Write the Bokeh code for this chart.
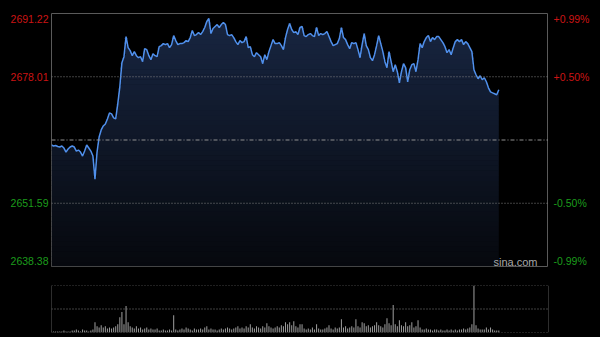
import numpy as np
from bokeh.plotting import figure
from bokeh.layouts import column, row
from bokeh.models import Range1d, Span, Label, ColumnDataSource
from bokeh.core.properties import value
from bokeh.embed import file_html
from bokeh.resources import INLINE

# ---------------- data ----------------
session_minutes = 240
prev_close = 2664.80
axis_prices = [2691.22, 2678.01, 2651.59, 2638.38]
left_labels = ["2691.22", "2678.01", "2651.59", "2638.38"]
right_labels = ["+0.99%", "+0.50%", "-0.50%", "-0.99%"]
label_is_up = [True, True, False, False]

price = [
    2663.75, 2663.54, 2663.65, 2663.44, 2663.33, 2663.54, 2663.12, 2662.28, 2662.91, 2663.33,
    2663.54, 2663.33, 2662.49, 2662.70, 2662.28, 2661.44, 2662.49, 2663.75, 2663.12, 2662.49,
    2661.44, 2656.62, 2662.28, 2665.43, 2666.90, 2667.73, 2668.15, 2669.20, 2670.46, 2670.25,
    2669.41, 2669.20, 2672.35, 2675.91, 2680.95, 2682.20, 2686.40, 2684.09, 2683.46, 2682.41,
    2683.25, 2682.41, 2681.99, 2682.20, 2681.16, 2683.88, 2683.67, 2682.41, 2681.58, 2682.83,
    2682.41, 2682.20, 2684.30, 2684.51, 2684.93, 2684.72, 2684.93, 2684.09, 2684.72, 2686.61,
    2685.56, 2684.72, 2684.93, 2684.93, 2685.14, 2685.56, 2685.35, 2686.19, 2687.66, 2686.61,
    2686.82, 2687.24, 2686.82, 2687.45, 2688.29, 2689.54, 2690.17, 2687.03, 2688.08, 2688.50,
    2688.91, 2688.29, 2688.91, 2689.33, 2688.91, 2686.82, 2686.61, 2686.82, 2686.19, 2685.35,
    2684.72, 2685.56, 2685.14, 2685.35, 2686.40, 2684.09, 2684.30, 2682.62, 2682.20, 2683.04,
    2682.62, 2682.20, 2680.74, 2682.62, 2681.58, 2683.25, 2684.51, 2685.77, 2684.93, 2684.93,
    2685.14, 2684.51, 2683.67, 2686.19, 2687.87, 2689.12, 2687.87, 2687.24, 2687.45, 2686.82,
    2688.29, 2688.50, 2686.61, 2686.40, 2686.82, 2687.03, 2686.61, 2686.40, 2688.29, 2686.61,
    2687.03, 2686.82, 2687.03, 2687.45, 2686.40, 2685.35, 2684.51, 2684.72, 2684.93, 2685.98,
    2688.29, 2686.19, 2685.77, 2684.72, 2683.88, 2685.14, 2684.93, 2685.14, 2683.67, 2681.99,
    2684.72, 2687.03, 2684.51, 2683.67, 2681.99, 2681.37, 2682.62, 2684.51, 2686.61, 2684.93,
    2683.25, 2681.16, 2679.90, 2683.25, 2681.16, 2679.06, 2680.53, 2679.06, 2676.75, 2679.06,
    2680.74, 2679.90, 2676.96, 2679.48, 2680.53, 2680.74, 2679.06, 2681.58, 2684.93, 2684.09,
    2685.35, 2686.19, 2686.61, 2685.35, 2686.19, 2685.77, 2686.40, 2686.40, 2685.77, 2685.14,
    2684.30, 2683.04, 2683.67, 2682.62, 2684.09, 2685.35, 2685.77, 2685.35, 2685.77, 2684.72,
    2685.35, 2684.93, 2684.09, 2683.25, 2679.48, 2678.43, 2677.59, 2678.22, 2677.38, 2677.80,
    2676.96, 2675.70, 2674.86, 2674.65, 2674.45, 2674.24, 2675.28,
]

volume = [
    2, 1, 1, 1, 1, 1, 2, 1, 1, 1, 2, 2, 3, 2, 1, 3, 2, 2, 1, 2, 3,
    10, 6, 5, 7, 5, 6, 4, 5, 4, 5, 6,
    8, 15, 20, 8, 26, 10, 6,
    5, 4, 6, 4, 5, 3, 4, 5, 3, 4, 3, 3, 4,
    2, 2, 3, 2, 2, 3, 2,
    17,
    3, 2, 3, 4, 3, 5, 4, 3, 2, 4, 3, 3, 4, 3, 5, 6,
    3, 4, 3, 3, 2, 3, 4, 3, 4, 5, 4, 3, 4, 5, 6,
    4, 5, 4, 6, 5, 8, 5, 4, 6,
    5, 4, 6, 5, 9, 6, 5, 4, 5, 6, 5, 7, 6,
    10, 8, 10, 7, 11, 6, 5, 8,
    8, 4, 3, 4, 3, 5, 3, 8, 4, 3, 3, 4, 5,
    7, 4, 3, 5, 4,
    5, 13, 5, 6, 4, 5, 6, 5,
    13, 6, 5, 10, 9, 6, 7, 5, 6, 7,
    10, 7, 6, 5, 8, 14, 9, 7,
    27, 8, 6, 12, 7, 6, 10, 6, 7, 10, 5, 6, 12, 5,
    3, 3, 4, 3, 3, 2, 3, 3, 2, 3, 2, 2, 3, 2, 3, 2, 3, 2, 3, 3, 4, 3,
    4, 5, 8, 46, 7, 4, 3, 3, 3, 5, 3, 5, 3, 2, 2, 2,
]

minutes = list(range(len(price)))

# ---------------- style ----------------
BG = "#000000"
FRAME = "#5a5a5a"
UP = "#cc1414"
DOWN = "#1c9c1c"
LINE = "#5090ec"
FONT = "Liberation Sans"
FONT_SIZE = "10.5px"
top_rgb = (24, 38, 66)
bot_rgb = (6, 8, 13)
TOP_B, BOT_B = 13, 10
LEFT_W, RIGHT_W = 51, 52
MAIN_H = 276

lo, hi = axis_prices[-1], axis_prices[0]
yr = Range1d(lo, hi)

p1 = figure(width=600 - LEFT_W - RIGHT_W, height=MAIN_H, output_backend="svg", toolbar_location=None,
            x_axis_type=None, y_axis_type=None,
            x_range=Range1d(0, session_minutes), y_range=yr,
            min_border_left=0, min_border_right=0, min_border_top=TOP_B, min_border_bottom=BOT_B,
            background_fill_color=BG, border_fill_color=BG,
            outline_line_color=FRAME, outline_line_width=1)
p1.xgrid.visible = False
p1.ygrid.visible = False

# gradient area below the line, built from horizontal colour bands
pr = np.array(price)
nb = 50
edges = np.linspace(lo, hi, nb + 1)
eps = (hi - lo) / 500.0
for k in range(nb):
    b, t = edges[k], edges[k + 1]
    frac = (k + 0.5) / nb
    c = tuple(int(round(bc + (tc - bc) * frac)) for bc, tc in zip(bot_rgb, top_rgb))
    col = "#%02x%02x%02x" % c
    y2 = np.clip(pr, b, t)
    y1 = np.where(pr > b, b - (eps if k > 0 else 0), b)
    p1.varea(x=minutes, y1=y1, y2=y2, fill_color=col, fill_alpha=1.0)

# reference lines
for v in (axis_prices[1], axis_prices[2]):
    p1.add_layout(Span(location=v, dimension="width", line_color="#808080",
                       line_dash="1 2", line_width=1))
p1.add_layout(Span(location=prev_close, dimension="width", line_color="#909090",
                   line_dash="4 2 1 2", line_width=1))

p1.line(minutes, price, line_color=LINE, line_width=1.5)

p1.add_layout(Label(x=p1.width - 11, y=5, x_units="screen", y_units="screen", text="sina.com",
                    text_align="right", text_baseline="middle",
                    text_color="#a8a8a8", text_font=FONT, text_font_size="11px"))

# side label panels sharing the price scale (glyph y_offset: positive = down)
offsets = [5, 0, 0, -6]
colors = [UP if u else DOWN for u in label_is_up]


def side_panel(width, labels, align, xpos):
    f = figure(width=width, height=MAIN_H, output_backend="svg", toolbar_location=None,
               x_axis_type=None, y_axis_type=None,
               x_range=Range1d(0, width), y_range=yr,
               min_border_left=0, min_border_right=0, min_border_top=TOP_B, min_border_bottom=BOT_B,
               background_fill_color=BG, border_fill_color=BG, outline_line_color=None)
    f.xgrid.visible = False
    f.ygrid.visible = False
    src = ColumnDataSource(dict(x=[xpos] * len(labels), y=axis_prices, t=labels,
                                c=colors, o=offsets))
    f.text(x="x", y="y", text="t", source=src, text_color="c", y_offset="o",
           text_align=align, text_baseline="middle",
           text_font=value(FONT), text_font_size=FONT_SIZE)
    return f


pl = side_panel(LEFT_W, left_labels, "right", LEFT_W - 3)
prr = side_panel(RIGHT_W, right_labels, "left", 5)

# ---------------- volume panel ----------------
vmax = max(volume)
p2 = figure(width=600, height=337 - MAIN_H, output_backend="svg", toolbar_location=None,
            x_axis_type=None, y_axis_type=None,
            x_range=p1.x_range, y_range=Range1d(0, vmax),
            min_border_left=LEFT_W, min_border_right=RIGHT_W, min_border_top=9, min_border_bottom=5,
            background_fill_color=BG, border_fill_color=BG, outline_line_color=None)
p2.xgrid.visible = False
p2.ygrid.visible = False

for v in (0, vmax / 2.0, vmax):
    p2.add_layout(Span(location=v, dimension="width", line_color="#808080",
                       line_dash="1 2", line_width=1))
for v in (0, session_minutes):
    p2.add_layout(Span(location=v, dimension="height", line_color=FRAME, line_width=1))

p2.vbar(x=minutes, top=volume, width=0.5, fill_color="#9a9a9a", line_color=None)

layout = column(row(pl, p1, prr, spacing=0), p2, spacing=0)
layout.styles = {"background-color": BG}

open("out.html", "w").write(file_html(layout, INLINE))
